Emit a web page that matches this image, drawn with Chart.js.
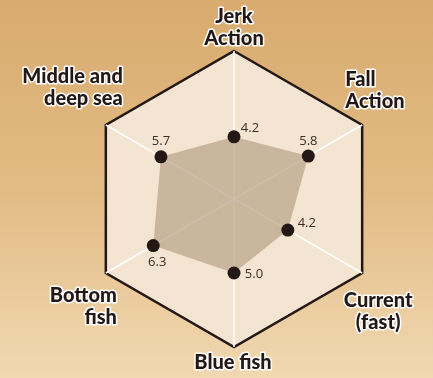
<!DOCTYPE html>
<html>
<head>
<meta charset="utf-8">
<script src="https://cdn.jsdelivr.net/npm/chart.js@4/dist/chart.umd.min.js"></script>
<style>
  html, body { margin: 0; padding: 0; background: #e3bd87; }
  #wrap { width: 433px; height: 378px; }
</style>
</head>
<body>
<div id="wrap"><canvas id="fish-chart"></canvas></div>
<script>
// six-axis action / target profile
var axisLabels = [
    ['Jerk', 'Action'],
    ['Fall', 'Action'],
    ['Current', '(fast)'],
    ['Blue fish'],
    ['Bottom', 'fish'],
    ['Middle and', 'deep sea']
];
var scores = [4.2, 5.8, 4.2, 5.0, 6.3, 5.7];
var scaleMin = 0;
var scaleMax = 10;

// where each axis label sits relative to its hexagon corner
var labelPlace = [
    { dx: 0, dy: -34, align: 'center' },
    { dx: -17, dy: -45, align: 'left' },
    { dx: 16, dy: 28, align: 'center' },
    { dx: -1, dy: 16, align: 'center' },
    { dx: 11, dy: 23, align: 'right' },
    { dx: 17, dy: -48, align: 'right' }
];
// where each score sits relative to its point
var valuePlace = [
    { dx: 16, dy: -9 },
    { dx: 0, dy: -15 },
    { dx: 19, dy: -7 },
    { dx: 20, dy: 1 },
    { dx: 4, dy: 17 },
    { dx: 0, dy: -16 }
];

const backdrop = {
    id: 'backdrop',
    beforeDraw(chart) {
        const ctx = chart.ctx;
        const g = ctx.createLinearGradient(0, 0, 0, chart.height);
        g.addColorStop(0, '#d8ab6f');
        g.addColorStop(0.5, '#e2bb84');
        g.addColorStop(1, '#f1d8b1');
        ctx.save();
        ctx.fillStyle = g;
        ctx.fillRect(0, 0, chart.width, chart.height);
        ctx.restore();
    }
};

const labelsPlugin = {
    id: 'labelsPlugin',
    afterDatasetsDraw(chart) {
        const ctx = chart.ctx;
        const r = chart.scales.r;
        ctx.save();
        ctx.textBaseline = 'middle';
        ctx.lineJoin = 'round';

        // axis names, dark with a thin white rim
        ctx.font = '900 20px Lato';
        axisLabels.forEach((lines, i) => {
            const p = r.getPointPosition(i, r.drawingArea);
            const pl = labelPlace[i];
            ctx.textAlign = pl.align;
            lines.forEach((txt, j) => {
                const x = p.x + pl.dx;
                const y = p.y + pl.dy + j * 22;
                ctx.strokeStyle = '#ffffff';
                ctx.lineWidth = 3;
                ctx.strokeText(txt, x, y);
                ctx.fillStyle = '#231815';
                ctx.fillText(txt, x, y);
            });
        });

        // score next to each point
        const meta = chart.getDatasetMeta(0);
        ctx.font = '13px "Open Sans"';
        ctx.textAlign = 'center';
        ctx.fillStyle = '#3a2f28';
        meta.data.forEach((pt, i) => {
            ctx.fillText(scores[i].toFixed(1), pt.x + valuePlace[i].dx, pt.y + valuePlace[i].dy);
        });
        ctx.restore();
    }
};

var ctx = document.getElementById('fish-chart').getContext('2d');
var fishChart = new Chart(ctx, {
    type: 'radar',
    data: {
        labels: axisLabels,
        datasets: [{
            data: scores,
            fill: true,
            backgroundColor: 'rgba(186, 164, 136, 0.72)',
            borderWidth: 0,
            borderColor: 'rgba(0,0,0,0)',
            pointRadius: 6.5,
            pointBackgroundColor: '#231815',
            pointBorderWidth: 0
        }]
    },
    options: {
        responsive: true,
        maintainAspectRatio: false,
        animation: false,
        layout: {
            padding: { top: 51, bottom: 31, left: 86, right: 51 }
        },
        plugins: {
            legend: { display: false },
            tooltip: { enabled: false }
        },
        scales: {
            r: {
                min: scaleMin,
                max: scaleMax,
                backgroundColor: '#f3e5d1',
                ticks: { display: false, stepSize: 10 },
                pointLabels: { display: false },
                grid: { color: '#231815', lineWidth: 2.5 },
                angleLines: { color: '#ffffff', lineWidth: 1.5 }
            }
        }
    },
    plugins: [backdrop, labelsPlugin]
});
</script>
</body>
</html>
